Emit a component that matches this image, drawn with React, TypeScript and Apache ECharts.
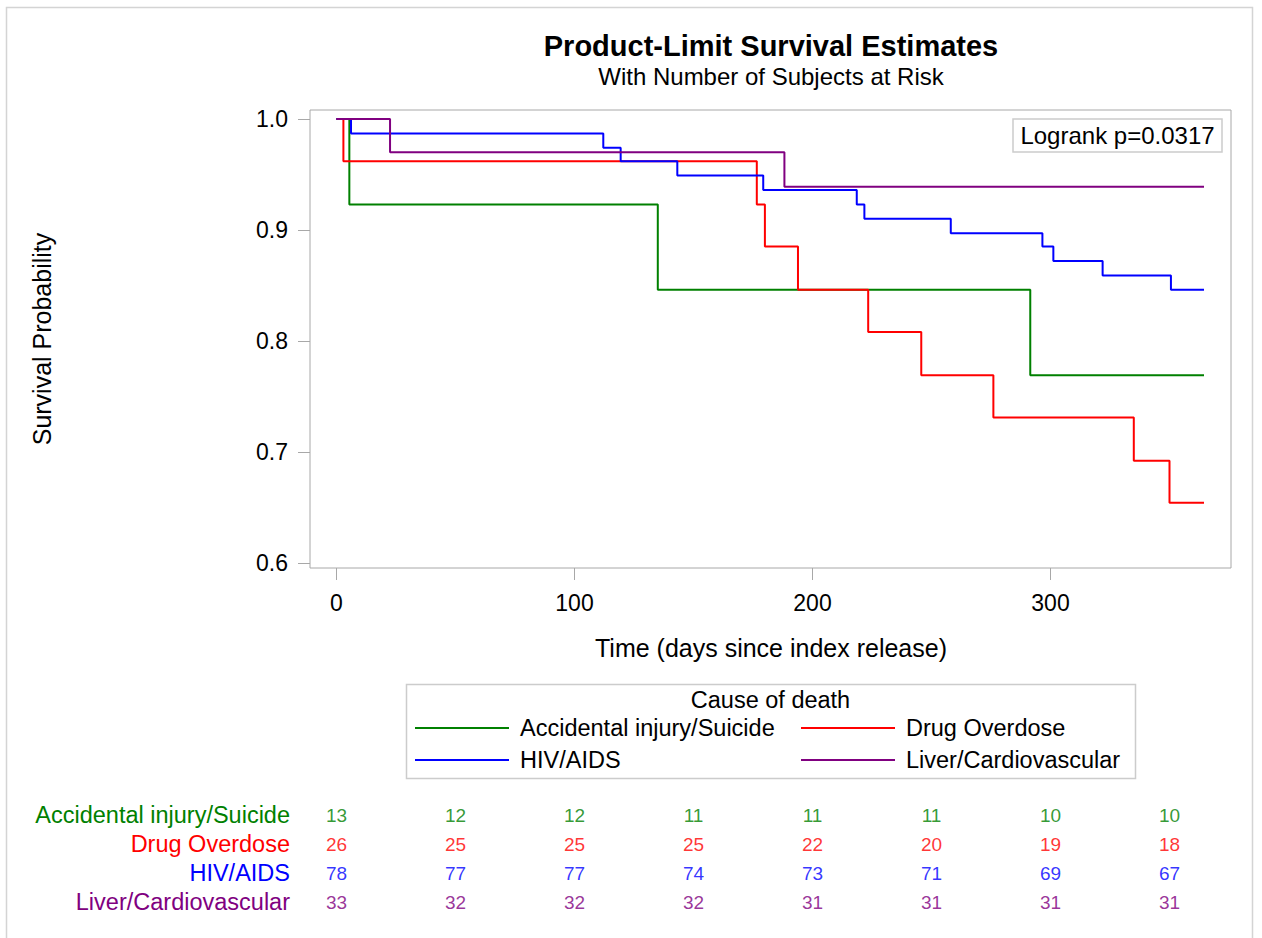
import React, { useEffect, useRef } from 'react';
import * as echarts from 'echarts';

const groupNames = ['Accidental injury/Suicide', 'Drug Overdose', 'HIV/AIDS', 'Liver/Cardiovascular'];
const groupColors = ['#008000', '#ff0000', '#0000ff', '#800080'];

const accidentalTimes = [0, 5.4, 135.0, 291.5, 364.5];
const accidentalSurv = [1.0, 0.923, 0.846, 0.769, 0.769];
const drugTimes = [0, 2.9, 176.6, 180.0, 193.9, 223.4, 245.7, 276.0, 335.0, 350.0, 364.5];
const drugSurv = [1.0, 0.962, 0.923, 0.885, 0.846, 0.808, 0.769, 0.731, 0.692, 0.654, 0.654];
const hivTimes = [0, 6.1, 112.1, 119.4, 143.2, 179.3, 218.6, 221.8, 258.1, 296.6, 301.2, 321.9, 350.6, 364.5];
const hivSurv = [1.0, 0.987, 0.974, 0.962, 0.949, 0.936, 0.923, 0.91, 0.897, 0.885, 0.872, 0.859, 0.846, 0.846];
const liverTimes = [0, 22.5, 188.2, 364.5];
const liverSurv = [1.0, 0.97, 0.939, 0.939];

const xTicks = [0, 100, 200, 300];
const yTicks = [0.6, 0.7, 0.8, 0.9, 1.0];

const riskTimes = [0, 50, 100, 150, 200, 250, 300, 350];
const accidentalRisk = [13, 12, 12, 11, 11, 11, 10, 10];
const drugRisk = [26, 25, 25, 25, 22, 20, 19, 18];
const hivRisk = [78, 77, 77, 74, 73, 71, 69, 67];
const liverRisk = [33, 32, 32, 32, 31, 31, 31, 31];

const titleText = 'Product-Limit Survival Estimates';
const subtitleText = 'With Number of Subjects at Risk';
const xTitle = 'Time (days since index release)';
const yTitle = 'Survival Probability';
const legendTitle = 'Cause of death';
const logrankText = 'Logrank p=0.0317';

const FF = "'Liberation Sans', Arial, sans-serif";

const curves = [
  [accidentalTimes, accidentalSurv],
  [drugTimes, drugSurv],
  [hivTimes, hivSurv],
  [liverTimes, liverSurv],
];
const risks = [accidentalRisk, drugRisk, hivRisk, liverRisk];

const X_MIN = -11.13;
const X_MAX = 375.84;
const Y_MIN = 0.5953;
const Y_MAX = 1.0081;

function txt(text: string, x: number, y: number, size: number, opts: any = {}) {
  return {
    type: 'text',
    x,
    y,
    rotation: opts.rotation || 0,
    silent: true,
    style: {
      text,
      fontFamily: FF,
      fontSize: size,
      fontWeight: opts.bold ? 'bold' : 'normal',
      fill: opts.color || '#000',
      textAlign: opts.align || 'center',
      textVerticalAlign: 'middle',
      align: opts.align || 'center',
      verticalAlign: 'middle',
    },
  };
}

export default function App() {
  const ref = useRef<HTMLDivElement>(null);
  useEffect(() => {
    if (!ref.current) return;
    const chart = echarts.init(ref.current, null, { renderer: 'svg' });
    const lineSeries = groupNames.map((name, i) => ({
      type: 'line',
      name,
      xAxisIndex: 0,
      yAxisIndex: 0,
      step: 'end',
      symbol: 'none',
      showSymbol: false,
      silent: true,
      data: curves[i][0].map((t, j) => [t, curves[i][1][j]]),
      lineStyle: { color: groupColors[i], width: 2 },
      itemStyle: { color: groupColors[i] },
      z: 5,
    }));
    const riskSeries = groupNames.map((name, i) => ({
      type: 'scatter',
      name: 'risk-' + name,
      xAxisIndex: 1,
      yAxisIndex: 1,
      symbolSize: 1,
      silent: true,
      itemStyle: { color: 'transparent' },
      data: riskTimes.map((t, j) => [t, name, risks[i][j]]),
      label: {
        show: true,
        position: 'inside',
        formatter: (p: any) => String(p.value[2]),
        color: groupColors[i],
        fontFamily: FF,
        fontSize: 19,
      },
    }));
    const option: any = {
      animation: false,
      backgroundColor: '#fff',
      grid: [
        {
          left: 310, top: 110, width: 921, height: 458,
          show: true, borderColor: '#a8a8a8', borderWidth: 1, backgroundColor: 'transparent',
          containLabel: false, outerBoundsMode: 'none',
        },
        {
          left: 310, top: 800.5, width: 921, height: 116,
          show: false, containLabel: false, outerBoundsMode: 'none',
        },
      ],
      xAxis: [
        {
          type: 'value', gridIndex: 0, min: X_MIN, max: X_MAX, position: 'bottom',
          axisLine: { show: false, onZero: false },
          splitLine: { show: false },
          axisTick: { show: true, length: 12, customValues: xTicks, lineStyle: { color: '#a8a8a8', width: 1 } },
          axisLabel: {
            customValues: xTicks, margin: 23, color: '#000', fontFamily: FF, fontSize: 23,
          },
        },
        { type: 'value', gridIndex: 1, min: X_MIN, max: X_MAX, show: false },
      ],
      yAxis: [
        {
          type: 'value', gridIndex: 0, min: Y_MIN, max: Y_MAX, position: 'left',
          axisLine: { show: false, onZero: false },
          splitLine: { show: false },
          axisTick: { show: true, length: 12, customValues: yTicks, lineStyle: { color: '#a8a8a8', width: 1 } },
          axisLabel: {
            customValues: yTicks, margin: 22, color: '#000', fontFamily: FF, fontSize: 23,
            formatter: (v: number) => v.toFixed(1),
          },
        },
        {
          type: 'category', gridIndex: 1, data: groupNames, inverse: true, position: 'left',
          axisLine: { show: false, onZero: false }, axisTick: { show: false }, splitLine: { show: false },
          axisLabel: {
            interval: 0, margin: 20, fontFamily: FF, fontSize: 23.5,
            color: (v: string) => groupColors[groupNames.indexOf(v)],
          },
        },
      ],
      legend: {
        data: groupNames,
        left: 415, top: 716, width: 770, orient: 'horizontal',
        icon: 'rect',
        itemWidth: 94, itemHeight: 2, itemGap: 8, padding: 0,
        selectedMode: false,
        textStyle: {
          fontFamily: FF, fontSize: 23.5, color: '#000', width: 273, lineHeight: 24,
          padding: [0, 0, 0, 6], overflow: 'none',
        },
      },
      graphic: [
        { type: 'rect', silent: true, shape: { x: 6.5, y: 7.5, width: 1246, height: 1000 }, style: { fill: 'none', stroke: '#d4d4d4', lineWidth: 1.5 } },
        txt(titleText, 771, 46, 29, { bold: true }),
        txt(subtitleText, 771, 76, 24),
        txt(yTitle, 42, 339, 25, { rotation: Math.PI / 2 }),
        txt(xTitle, 771, 648, 25),
        { type: 'rect', silent: true, shape: { x: 1013, y: 119, width: 209, height: 33 }, style: { fill: '#fff', stroke: '#cccccc', lineWidth: 1.5 }, z: 10 },
        { ...txt(logrankText, 1117.5, 135.5, 24), z: 11 },
        { type: 'rect', silent: true, shape: { x: 406.5, y: 684.5, width: 729, height: 94 }, style: { fill: 'none', stroke: '#cccccc', lineWidth: 1.5 } },
        txt(legendTitle, 770.5, 700, 23.5),
      ],
      series: [...lineSeries, ...riskSeries],
    };
    chart.setOption(option);
    return () => chart.dispose();
  }, []);
  return <div ref={ref} style={{ position: 'absolute', left: 0, top: 0, width: 1262, height: 938 }} />;
}
